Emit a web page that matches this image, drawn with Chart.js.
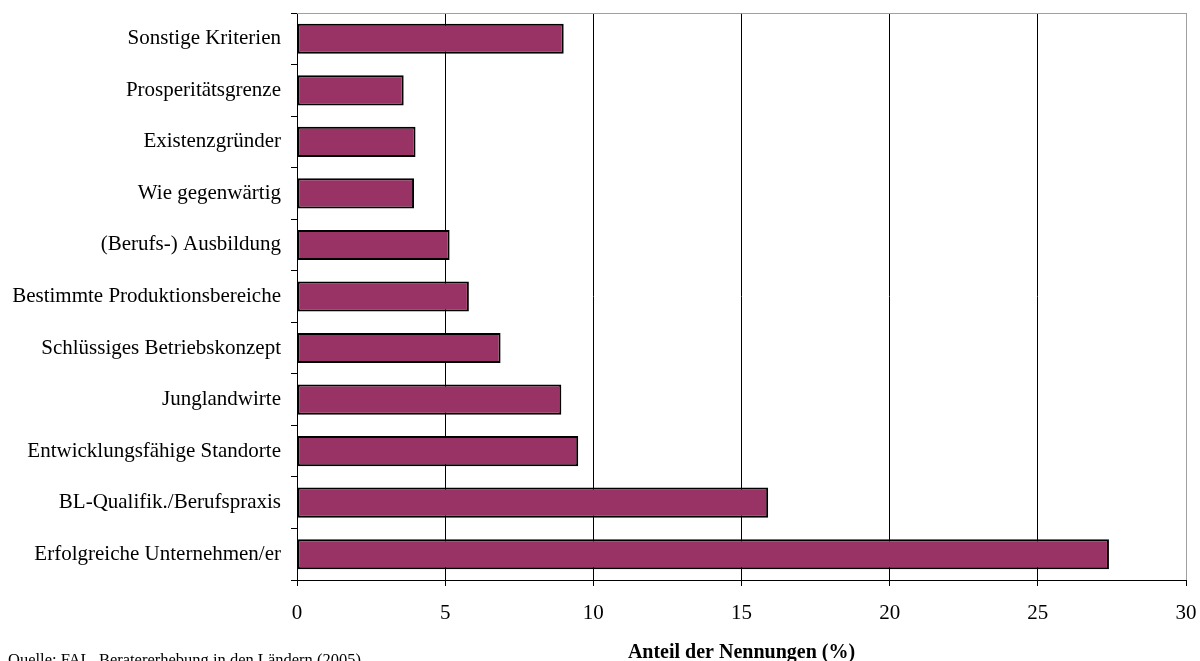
<!DOCTYPE html>
<html>
<head>
<meta charset="utf-8">
<script src="https://cdn.jsdelivr.net/npm/chart.js@4/dist/chart.umd.min.js"></script>
<style>
  body { margin: 0; background: #fff; }
  #wrap { width: 1200px; height: 661px; overflow: hidden; }
</style>
</head>
<body>
<div id="wrap"><canvas id="chart" width="1200" height="661"></canvas></div>
<script>
var categories = [
    "Sonstige Kriterien",
    "Prosperitätsgrenze",
    "Existenzgründer",
    "Wie gegenwärtig",
    "(Berufs-) Ausbildung",
    "Bestimmte Produktionsbereiche",
    "Schlüssiges Betriebskonzept",
    "Junglandwirte",
    "Entwicklungsfähige Standorte",
    "BL-Qualifik./Berufspraxis",
    "Erfolgreiche Unternehmen/er"
];
var shares = [9.0, 3.6, 4.0, 3.95, 5.15, 5.8, 6.87, 8.92, 9.49, 15.9, 27.4];
var xTicks = [0, 5, 10, 15, 20, 25, 30];
var axisTitle = "Anteil der Nennungen (%)";
var sourceNote = "Quelle: FAL, Beratererhebung in den Ländern (2005)";

var serif = "'Liberation Serif', 'Times New Roman', serif";

// top and right frame lines plus the source note under the chart
var framePlugin = {
    id: 'frame',
    afterDraw: function(chart) {
        var c = chart.ctx, a = chart.chartArea;
        c.save();
        c.strokeStyle = '#a0a0a0';
        c.lineWidth = 1;
        c.beginPath();
        c.moveTo(a.left, a.top + 0.5);
        c.lineTo(a.right + 0.5, a.top + 0.5);
        c.lineTo(a.right + 0.5, a.bottom);
        c.stroke();
        c.fillStyle = '#000';
        c.font = "16.5px " + serif;
        c.textAlign = 'left';
        c.textBaseline = 'alphabetic';
        c.fillText(sourceNote, 8, 665);
        c.restore();
    }
};

new Chart(document.getElementById('chart'), {
    type: 'bar',
    data: {
        labels: categories,
        datasets: [{
            data: shares,
            backgroundColor: '#993366',
            borderColor: '#000',
            borderWidth: 2,
            borderSkipped: false,
            categoryPercentage: 1,
            barPercentage: 0.585
        }]
    },
    options: {
        indexAxis: 'y',
        responsive: false,
        animation: false,
        layout: { padding: { left: 0, right: 14, top: 13, bottom: 0 } },
        plugins: {
            legend: { display: false },
            tooltip: { enabled: false }
        },
        scales: {
            x: {
                min: 0,
                max: 30,
                afterBuildTicks: function(scale) {
                    scale.ticks = xTicks.map(function(v) { return { value: v }; });
                },
                afterFit: function(scale) {
                    scale.height = 81;
                    scale.paddingLeft = 0;
                    scale.paddingRight = 0;
                },
                grid: {
                    color: function(ctx) { return ctx.tick && ctx.tick.value === 30 ? '#a0a0a0' : '#000'; },
                    tickColor: '#000',
                    tickLength: 6,
                    lineWidth: 1
                },
                border: { color: '#000', width: 1 },
                ticks: {
                    color: '#000',
                    padding: 15,
                    maxRotation: 0,
                    font: { family: serif, size: 21 }
                },
                title: {
                    display: true,
                    text: axisTitle,
                    color: '#000',
                    font: { family: serif, size: 20, weight: 'bold' },
                    padding: { top: 0, bottom: -4 }
                }
            },
            y: {
                afterFit: function(scale) {
                    scale.width = 297;
                    scale.paddingTop = 0;
                    scale.paddingBottom = 0;
                },
                grid: {
                    drawOnChartArea: false,
                    tickColor: '#000',
                    tickLength: 6,
                    offset: true
                },
                border: { color: '#000', width: 1 },
                ticks: {
                    color: '#000',
                    padding: 10,
                    font: { family: serif, size: 21 }
                }
            }
        }
    },
    plugins: [framePlugin]
});
</script>
</body>
</html>
